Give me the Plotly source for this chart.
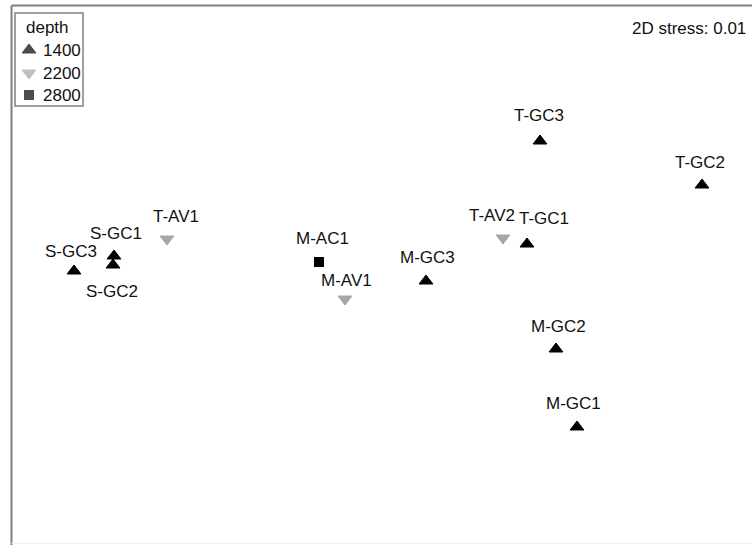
import plotly.graph_objects as go

# NMDS coordinates (arbitrary units)
samples = ["S-GC1", "S-GC2", "S-GC3", "T-AV1", "M-AC1", "M-AV1", "M-GC3",
           "T-GC3", "T-GC2", "T-AV2", "T-GC1", "M-GC2", "M-GC1"]
nmds1 = [-1.34, -1.345, -1.54, -1.075, -0.315, -0.185, 0.22,
         0.79, 1.60, 0.605, 0.725, 0.87, 0.975]
nmds2 = [0.095, 0.05, 0.02, 0.18, 0.065, -0.12, -0.03,
         0.67, 0.45, 0.185, 0.155, -0.37, -0.76]
depth = [1400, 1400, 1400, 2200, 2800, 2200, 1400,
         1400, 1400, 2200, 1400, 1400, 1400]
depth_levels = [1400, 2200, 2800]
legend_title = "depth"
stress_text = "2D stress: 0.01"

# label placement offsets (pixels) relative to each marker
label_offsets = {
    "S-GC1": (2, 23), "S-GC2": (-1, -26), "S-GC3": (-3, 20), "T-AV1": (9, 23),
    "M-AC1": (3, 24), "M-AV1": (1, 19), "M-GC3": (1, 24), "T-GC3": (-1, 26),
    "T-GC2": (-2, 23), "T-AV2": (-11, 23), "T-GC1": (17, 26), "M-GC2": (2, 23),
    "M-GC1": (-4, 24),
}

styles = {
    1400: dict(symbol="triangle-up", color="#000000", size=12, lw=1),
    2200: dict(symbol="triangle-down", color="#a6a6a6", size=12, lw=1),
    2800: dict(symbol="square", color="#000000", size=10, lw=0),
}

FONT = "Liberation Sans, Arial, sans-serif"
TXT = "#111111"
W, H = 752, 545

fig = go.Figure()
for lvl in depth_levels:
    xs = [x for x, d in zip(nmds1, depth) if d == lvl]
    ys = [y for y, d in zip(nmds2, depth) if d == lvl]
    st = styles[lvl]
    fig.add_trace(go.Scatter(
        x=xs, y=ys, mode="markers", name=str(lvl), showlegend=False,
        marker=dict(symbol=st["symbol"], color=st["color"], size=st["size"],
                    line=dict(width=st["lw"], color=st["color"])),
        hoverinfo="skip",
    ))

for name, x, y in zip(samples, nmds1, nmds2):
    dx, dy = label_offsets[name]
    fig.add_annotation(x=x, y=y, text=name, showarrow=False,
                       xshift=dx, yshift=dy,
                       font=dict(family=FONT, size=17, color=TXT))

# ---- pixel-space axes (full figure) for frame, legend box and stress note ----
leg_x_sym, leg_x_txt = 29, 41
leg_rows = [50, 73, 95]
fig.add_trace(go.Scatter(
    x=[leg_x_sym] * len(depth_levels), y=leg_rows, mode="markers",
    xaxis="x2", yaxis="y2", showlegend=False, hoverinfo="skip",
    marker=dict(symbol=[styles[l]["symbol"] for l in depth_levels],
                color=[styles[l]["color"] for l in depth_levels],
                size=[styles[l]["size"] for l in depth_levels],
                line=dict(width=[styles[l]["lw"] for l in depth_levels],
                          color=[styles[l]["color"] for l in depth_levels])),
))
fig.add_annotation(xref="x2", yref="y2", x=24, y=27, text=legend_title,
                   xanchor="left", yanchor="middle", showarrow=False,
                   font=dict(family=FONT, size=17, color=TXT))
for lvl, ry in zip(depth_levels, leg_rows):
    fig.add_annotation(xref="x2", yref="y2", x=leg_x_txt, y=ry, text=str(lvl),
                       xanchor="left", yanchor="middle", showarrow=False,
                       font=dict(family=FONT, size=17, color=TXT))
fig.add_shape(type="rect", xref="x2", yref="y2", x0=15, x1=83, y0=13, y1=106,
              line=dict(color="#808080", width=1.5), fillcolor="rgba(0,0,0,0)")

fig.add_annotation(xref="x2", yref="y2", x=748, y=28, text=stress_text,
                   xanchor="right", yanchor="middle", showarrow=False,
                   font=dict(family=FONT, size=17, color=TXT))

# frame (left, top, faint bottom)
fig.add_shape(type="line", xref="x2", yref="y2", x0=11.5, x1=11.5, y0=5.5, y1=545,
              line=dict(color="#7f7f7f", width=2))
fig.add_shape(type="line", xref="x2", yref="y2", x0=11.5, x1=760, y0=5.5, y1=5.5,
              line=dict(color="#7f7f7f", width=2))
fig.add_shape(type="line", xref="x2", yref="y2", x0=11.5, x1=760, y0=543.5, y1=543.5,
              line=dict(color="#eeeeee", width=1))

fig.update_layout(
    width=W, height=H,
    margin=dict(l=0, r=0, t=0, b=0, pad=0),
    plot_bgcolor="rgba(0,0,0,0)", paper_bgcolor="white",
    showlegend=False,
    xaxis=dict(range=[-1.85, 1.85], domain=[12 / W, 1], visible=False,
               showgrid=False, zeroline=False),
    yaxis=dict(range=[-1.345, 1.345], domain=[1 / H, 1 - 6 / H], visible=False,
               showgrid=False, zeroline=False),
    xaxis2=dict(range=[0, W], domain=[0, 1], anchor="y2", visible=False,
                showgrid=False, zeroline=False),
    yaxis2=dict(range=[H, 0], domain=[0, 1], anchor="x2", visible=False,
                showgrid=False, zeroline=False),
)

fig.write_html("out.html", config={"displayModeBar": False},
               post_script="document.body.style.margin='0';document.body.style.overflow='hidden';")
